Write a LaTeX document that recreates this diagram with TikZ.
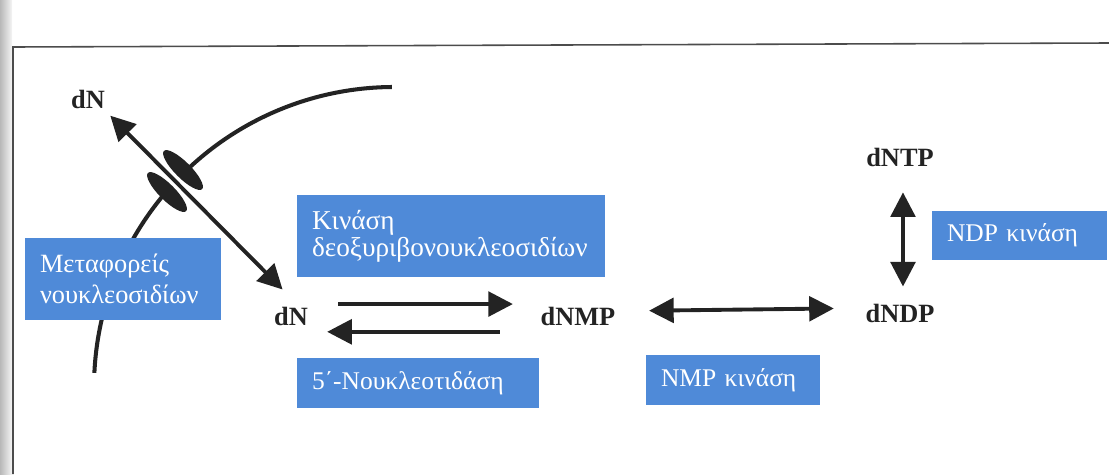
\documentclass[tikz,border=0pt]{standalone}
\usepackage{fontspec}
\setmainfont{Liberation Serif}
\usetikzlibrary{arrows.meta, positioning, shapes.geometric}
\definecolor{boxblue}{HTML}{4F8AD8}
\definecolor{inkgray}{HTML}{232323}

\begin{document}
\begin{tikzpicture}[
        x=0.02cm, y=-0.02cm,
        lbl/.style={font=\fontsize{15}{18}\selectfont\bfseries, text=inkgray, inner sep=0pt},
        blk/.style={fill=boxblue, text=white, inner xsep=0.3cm, inner ysep=0pt,
                    align=left, font=\fontsize{14.5}{18}\selectfont},
        chan/.style={ellipse, fill=inkgray, inner sep=0pt,
                     minimum width=1.08cm, minimum height=0.32cm},
        memb/.style={line width=2.3pt, draw=inkgray},
        arr/.style={-{Triangle[length=14pt, width=14pt]}, line width=2.2pt, draw=inkgray, fill=inkgray},
        dblarr/.style={{Triangle[length=14pt, width=14pt]}-{Triangle[length=14pt, width=14pt]},
                       line width=2.2pt, draw=inkgray, fill=inkgray},
        frame/.style={draw=black!70, line width=0.9pt},
      ]
        \useasboundingbox (0,0) rectangle (1109,474);
        % scanned page edge
        \shade[left color=black!28, right color=black!4] (0,0) rectangle (12,474);
        \draw[frame] (13,474) -- (13,47) -- (1109,43);

        % cell membrane with the transporter
        \draw[memb] (391.9,87) arc[start angle=90.4, end angle=134, radius=6cm];
        \draw[memb] (167.6,190.2) arc[start angle=139, end angle=177.3, radius=6cm];
        \node[chan, rotate=-45] (chanA) at (183,170) {};
        \node[chan, rotate=-45] (chanB) at (167,192) {};

        % metabolites
        \node[lbl] (dNout) at (88,99)  {dN};
        \node[lbl] (dN)    at (291,316) {dN};
        \node[lbl] (dNMP)  at (578,316) {dNMP};
        \node[lbl] (dNDP)  at (900,313) {dNDP};
        \node[lbl, above=2.72cm of dNDP] (dNTP) {dNTP};

        % enzymes
        \node[blk, text width=3.32cm, minimum height=1.64cm,
              font=\fontsize{15}{18}\selectfont] (transp) at (123,279) {Μεταφορείς\\νουκλεοσιδίων};
        \node[blk, text width=5.56cm, minimum height=1.64cm,
              font=\fontsize{15.5}{15.5}\selectfont] (dnk) at (451,236) {Κινάση\\δεοξυριβονουκλεοσιδίων};
        \node[blk, text width=4.24cm, minimum height=1.0cm]  (nt5)  at (418,383) {5΄-Νουκλεοτιδάση};
        \node[blk, text width=2.88cm, minimum height=1.0cm]  (nmpk) at (733,380) {\mbox{NMP κινάση}};
        \node[blk, text width=2.9cm,  minimum height=0.98cm] (ndpk) at (1019.5,235.5) {\mbox{NDP κινάση}};

        % reactions
        \draw[dblarr] ([xshift=2.9pt, yshift=-4pt]dNout.south east) -- ([xshift=5pt, yshift=9.6pt]dN.north west);
        \draw[arr, shorten <=17pt, shorten >=15.6pt] ([yshift=6.8pt]dN.east) -- ([yshift=6.8pt]dNMP.west);
        \draw[arr, shorten <=23pt, shorten >=10.8pt] ([yshift=-9pt]dNMP.west) -- ([yshift=-9pt]dN.east);
        \draw[dblarr, shorten <=19pt, shorten >=17.9pt] ([yshift=2.8pt]dNMP.east) -- ([yshift=2.8pt]dNDP.west);
        \draw[dblarr, shorten <=14.2pt, shorten >=9.6pt] ([xshift=1.7pt]dNTP.south) -- ([xshift=1.7pt]dNDP.north);
      \end{tikzpicture}
\end{document}
